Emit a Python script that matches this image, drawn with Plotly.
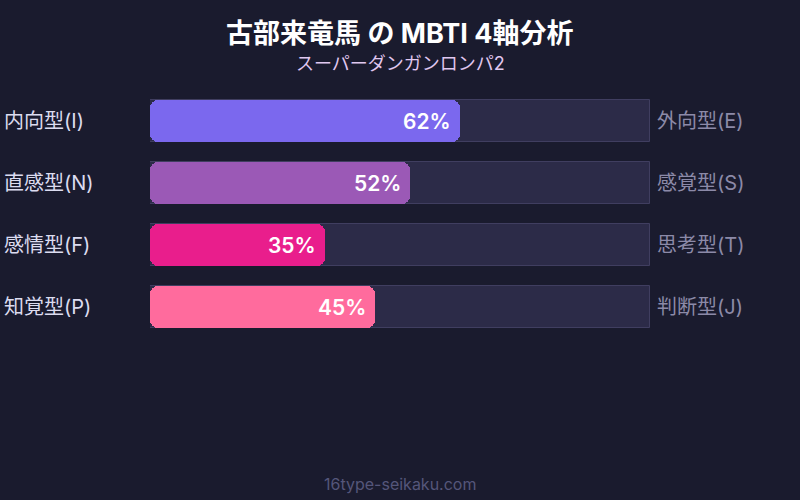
import plotly.graph_objects as go

left_labels = ["内向型(I)", "直感型(N)", "感情型(F)", "知覚型(P)"]
right_labels = ["外向型(E)", "感覚型(S)", "思考型(T)", "判断型(J)"]
values = [62, 52, 35, 45]
colors = ["#7b68ee", "#9b59b6", "#e91e8c", "#ff6b9d"]
track_max = [100, 100, 100, 100]
title_text = "古部来竜馬 の MBTI 4軸分析"
subtitle_text = "スーパーダンガンロンパ2"
footer_text = "16type-seikaku.com"

FONT = "Inter, 'Noto Sans CJK JP', sans-serif"
BG = "#1a1b2e"

ypos = list(range(len(values)))

fig = go.Figure()
# background track (full 100%)
fig.add_trace(go.Bar(
    x=track_max, y=ypos, orientation="h", width=0.68,
    marker=dict(color="#2c2b48", line=dict(color="#403e60", width=1), cornerradius=0),
    hoverinfo="skip", showlegend=False, yaxis="y",
))
# value bar, drawn as two overlapping pieces so that both ends are rounded
left_base = [v / 2 for v in values]
left_len = [-v / 2 for v in values]
right_base = [v / 4 for v in values]
right_len = [v - v / 4 for v in values]
fig.add_trace(go.Bar(
    x=left_len, base=left_base, y=ypos, orientation="h", width=0.68,
    marker=dict(color=colors, line=dict(width=0), cornerradius=8),
    hoverinfo="skip", showlegend=False, yaxis="y3",
))
fig.add_trace(go.Bar(
    x=right_len, base=right_base, y=ypos, orientation="h", width=0.68,
    marker=dict(color=colors, line=dict(width=0), cornerradius=8),
    hoverinfo="skip", showlegend=False, yaxis="y2",
))

annotations = []
for i, (l, r, v) in enumerate(zip(left_labels, right_labels, values)):
    annotations.append(dict(xref="paper", yref="y", x=-0.296, y=i, text=l,
                            xanchor="left", yanchor="middle", showarrow=False,
                            font=dict(family=FONT, size=20, color="#dcdcf0")))
    annotations.append(dict(xref="paper", yref="y", x=1, y=i, text=r, xshift=5,
                            xanchor="left", yanchor="middle", showarrow=False,
                            font=dict(family=FONT, size=20, color="#8c8aa8")))
    annotations.append(dict(xref="x", yref="y", x=v, y=i, text=f"{v}%", xshift=-7,
                            xanchor="right", yanchor="middle", showarrow=False,
                            font=dict(family=FONT, size=21, color="#ffffff", weight=600)))

def py(pix):
    # convert a pixel row to paper y (plot area is 90..338)
    return (338 - pix) / 248

annotations.append(dict(xref="paper", yref="paper", x=0.5, y=py(33), text=title_text,
                        xanchor="center", yanchor="middle", showarrow=False,
                        font=dict(family=FONT, size=27, color="#ffffff", weight=700)))
annotations.append(dict(xref="paper", yref="paper", x=0.5, y=py(63), text=subtitle_text,
                        xanchor="center", yanchor="middle", showarrow=False,
                        font=dict(family=FONT, size=18, color="#e0c8f0")))
annotations.append(dict(xref="paper", yref="paper", x=0.5, y=py(484), text=footer_text,
                        xanchor="center", yanchor="middle", showarrow=False,
                        font=dict(family=FONT, size=16, color="#55567a")))

axis_y = dict(range=[3.5, -0.5], visible=False, fixedrange=True)
fig.update_layout(
    width=800, height=500,
    paper_bgcolor=BG, plot_bgcolor=BG,
    margin=dict(l=150, r=150, t=90, b=162),
    barmode="overlay",
    bargap=0,
    xaxis=dict(range=[0, 100], visible=False, fixedrange=True),
    yaxis=axis_y,
    yaxis2=dict(axis_y, overlaying="y"),
    yaxis3=dict(axis_y, overlaying="y"),
    annotations=annotations,
)

fig.write_html("out.html", config={"displayModeBar": False},
               post_script="document.body.style.margin='0';document.body.style.background='%s';" % BG)
